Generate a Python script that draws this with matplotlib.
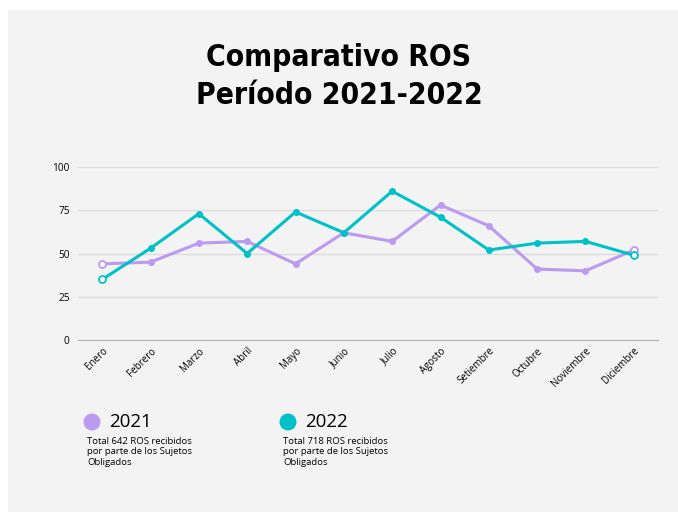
import matplotlib
matplotlib.use("Agg")
import matplotlib.pyplot as plt
from matplotlib.patches import Rectangle, Circle

MONTHS = ["Enero", "Febrero", "Marzo", "Abril", "Mayo", "Junio", "Julio",
          "Agosto", "Setiembre", "Octubre", "Noviembre", "Diciembre"]
ROS_2021 = [44, 45, 56, 57, 44, 62, 57, 78, 66, 41, 40, 52]
ROS_2022 = [35, 53, 73, 50, 74, 62, 86, 71, 52, 56, 57, 49]
Y_TICKS = [0, 25, 50, 75, 100]

PURPLE = "#bb9af2"
TEAL = "#00c1c7"
BG = "#f3f3f3"

plt.rcParams["font.family"] = ["Open Sans", "DejaVu Sans"]

fig = plt.figure(figsize=(6.78, 5.12), dpi=100)
fig.patch.set_facecolor("white")
fig.patches.append(Rectangle((8 / 678, 0), 1, 1 - 10 / 512, transform=fig.transFigure,
                             facecolor=BG, edgecolor="none", zorder=-5))

# title
for text, ypix in [("Comparativo ROS", 57), ("Período 2021-2022", 96)]:
    fig.text(0.5, 1 - ypix / 512, text, ha="center", va="center",
             fontsize=21.5, fontweight="heavy", fontstretch="condensed",
             family="DejaVu Sans")

ax = fig.add_axes([78 / 678, 1 - 340 / 512, 580 / 678, 173 / 512])
ax.set_facecolor(BG)
x = list(range(len(MONTHS)))


def draw(values, color):
    ax.plot(x, values, color=color, linewidth=2.2, zorder=3)
    ax.plot(x[1:-1], values[1:-1], "o", color=color, markersize=4, zorder=4)
    ax.plot([x[0], x[-1]], [values[0], values[-1]], "o", color=color,
            markerfacecolor="white", markeredgewidth=1.3, markersize=5, zorder=4)


draw(ROS_2021, PURPLE)
draw(ROS_2022, TEAL)

ax.set_xlim(-0.5, 11.5)
ax.set_ylim(0, 100)
ax.set_yticks(Y_TICKS)
ax.set_yticklabels([str(v) for v in Y_TICKS], fontsize=7.3)
ax.set_xticks(x)
ax.set_xticklabels(MONTHS, rotation=45, ha="right", rotation_mode="anchor", fontsize=7)
ax.tick_params(axis="both", length=0, pad=6)
ax.tick_params(axis="x", pad=4)
ax.grid(axis="y", color="#dcdcdc", linewidth=1)
ax.set_axisbelow(True)
for s in ["top", "right", "left"]:
    ax.spines[s].set_visible(False)
ax.spines["bottom"].set_color("#b0b0b0")

# legend blocks
legend = [("2021", PURPLE, 92, "Total 642 ROS recibidos\npor parte de los Sujetos\nObligados"),
          ("2022", TEAL, 288, "Total 718 ROS recibidos\npor parte de los Sujetos\nObligados")]
for label, color, cx, note in legend:
    fig.patches.append(Circle((cx, 512 - 422), 8.5, transform=None,
                              facecolor=color, edgecolor="none"))
    fig.text((cx + 17) / 678, 1 - 422 / 512, label, fontsize=13.5, va="center", ha="left")
    fig.text((cx - 5) / 678, 1 - 437 / 512, note, fontsize=6.8, va="top", ha="left",
             linespacing=1.2)

fig.savefig("out.png", dpi=100, facecolor=fig.get_facecolor())
